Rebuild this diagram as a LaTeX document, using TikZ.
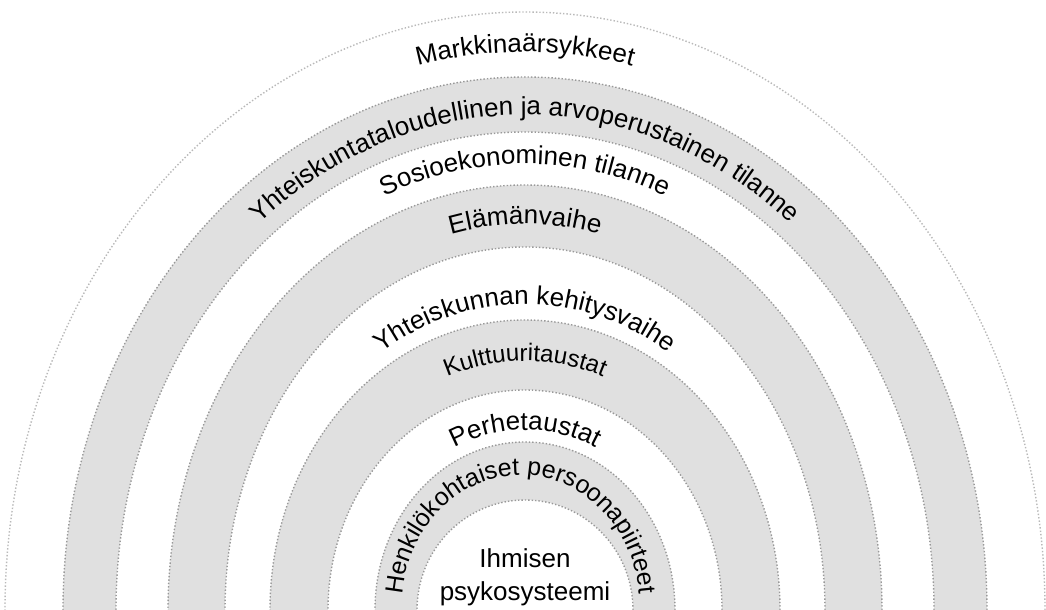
\documentclass[tikz,border=0pt]{standalone}
\usepackage{fontspec}
\setmainfont{Liberation Sans}
\usepackage{tikz}
\usetikzlibrary{decorations.text}

\tikzset{
  band/.style={fill=gray!24, draw=gray!80, line width=0.7pt, densely dotted},
  gap/.style={fill=white, draw=gray!80, line width=0.7pt, densely dotted},
  ringtext/.style={decorate, decoration={text along path, text align=center, text={#1}}}
}

\begin{document}
\fontsize{13}{16.5}\selectfont
\begin{tikzpicture}[x=0.5pt, y=0.5pt]
        \useasboundingbox (0,0) rectangle (1046,610);
        \clip (0,0) rectangle (1046,610);
        \coordinate (c) at (525,0);
        \draw[gap, draw=gray!55] (c) ellipse [x radius=520, y radius=598];
        \draw[band] (c) ellipse [x radius=462, y radius=533];
        \draw[gap] (c) ellipse [x radius=409, y radius=478];
        \draw[band] (c) ellipse [x radius=357, y radius=425];
        \draw[gap] (c) ellipse [x radius=300, y radius=363];
        \draw[band] (c) ellipse [x radius=255, y radius=290];
        \draw[gap] (c) ellipse [x radius=197, y radius=220];
        \draw[band] (c) ellipse [x radius=150, y radius=168];
        \draw[gap] (c) ellipse [x radius=108, y radius=110];
        \path[ringtext={Markkinaärsykkeet}] (c) ++(-482,0) arc [start angle=180, end angle=0, x radius=482, y radius=558];
        \path[ringtext={Yhteiskuntataloudellinen ja arvoperustainen tilanne}] (c) ++(-425,0) arc [start angle=180, end angle=0, x radius=425, y radius=495];
        \path[ringtext={Sosioekonominen tilanne}] (c) ++(-376,0) arc [start angle=180, end angle=0, x radius=376, y radius=446];
        \path[ringtext={Elämänvaihe}] (c) ++(-321,0) arc [start angle=180, end angle=0, x radius=321, y radius=386];
        \path[ringtext={Yhteiskunnan kehitysvaihe}] (c) ++(-265,0) arc [start angle=180, end angle=0, x radius=265, y radius=306];
        \path[ringtext={|\fontsize{12}{14}\selectfont|Kulttuuritaustat}] (c) ++(-221,0) arc [start angle=180, end angle=0, x radius=221, y radius=249];
        \path[ringtext={Perhetaustat}] (c) ++(-163,0) arc [start angle=180, end angle=0, x radius=163, y radius=180];
        \path[ringtext={|\fontsize{12.5}{15}\selectfont|Henkilökohtaiset persoonapiirteet}] (c) ++(-119,-30) arc [start angle=195, end angle=-15, x radius=119, y radius=131];
        \node[align=center] (core) at (525,33) {Ihmisen\\psykosysteemi};
      \end{tikzpicture}
\end{document}
